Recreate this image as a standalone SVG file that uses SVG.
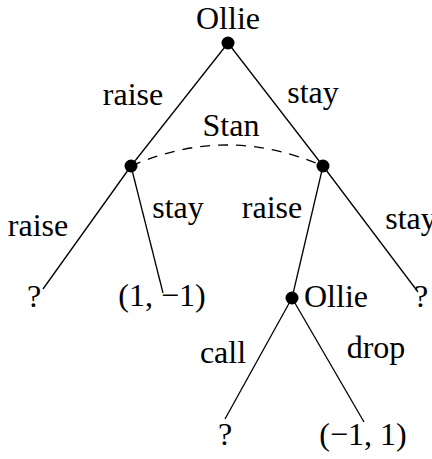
<svg xmlns="http://www.w3.org/2000/svg" width="432" height="459" viewBox="0 0 432 459">
<style>
text{font-family:"Liberation Serif","Times New Roman",serif;font-size:32px;fill:#000}
.e{stroke:#000;stroke-width:1.3;fill:none}
.d{fill:#000}
</style>
<rect width="432" height="459" fill="#fff"/>
<g id="connectors">
<line class="e" x1="228" y1="43" x2="131" y2="166"/>
<line class="e" x1="228" y1="43" x2="323" y2="166"/>
<line class="e" x1="131" y1="166" x2="43" y2="289"/>
<line class="e" x1="131" y1="166" x2="163" y2="293"/>
<line class="e" x1="323" y1="166" x2="292" y2="298"/>
<line class="e" x1="323" y1="166" x2="418" y2="292"/>
<line class="e" x1="292" y1="298" x2="225" y2="419"/>
<line class="e" x1="292" y1="298" x2="364" y2="422"/>
<path class="e" d="M131 166 Q227 124 323 166" stroke-dasharray="10 8"/>
<text x="133" y="105" text-anchor="middle">raise</text>
<text x="313" y="103" text-anchor="middle">stay</text>
<text x="38" y="236" text-anchor="middle">raise</text>
<text x="178" y="218" text-anchor="middle">stay</text>
<text x="272" y="218" text-anchor="middle">raise</text>
<text x="411" y="229" text-anchor="middle">stay</text>
<text x="223" y="363" text-anchor="middle">call</text>
<text x="376" y="358" text-anchor="middle">drop</text>
</g>
<g id="root"><circle class="d" cx="228" cy="43" r="6.5"/><text x="228" y="29" text-anchor="middle">Ollie</text></g>
<g id="stan-left"><circle class="d" cx="131" cy="166" r="6.5"/></g>
<g id="stan-right"><circle class="d" cx="323" cy="166" r="6.5"/></g>
<g id="stan-label"><text x="231" y="136" text-anchor="middle">Stan</text></g>
<g id="leaf-ll"><text x="34" y="307" text-anchor="middle">?</text></g>
<g id="leaf-lr"><text x="162" y="306" text-anchor="middle">(1, −1)</text></g>
<g id="ollie2"><circle class="d" cx="292" cy="298" r="6.5"/><text x="304" y="307">Ollie</text></g>
<g id="leaf-rr"><text x="421" y="307" text-anchor="middle">?</text></g>
<g id="leaf-call"><text x="225" y="445" text-anchor="middle">?</text></g>
<g id="leaf-drop"><text x="363" y="445" text-anchor="middle">(−1, 1)</text></g>
</svg>
